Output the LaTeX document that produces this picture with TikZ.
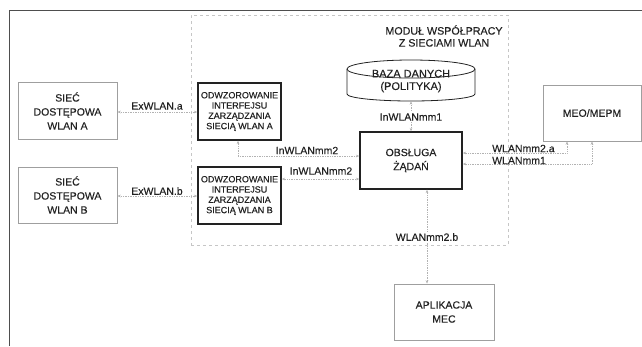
\documentclass[tikz,border=0pt]{standalone}
\usepackage{fontspec}
\setmainfont{Liberation Sans}[FakeBold=0.3]
\usetikzlibrary{arrows.meta}
\definecolor{ink}{HTML}{222222}
\begin{document}
\begin{tikzpicture}[x=1pt,y=-1pt,
  every node/.style={text=ink, font=\fontsize{10.5}{14}\selectfont, align=center},
  thinbox/.style={draw=gray!75, line width=0.7pt, inner sep=0pt},
  thickbox/.style={draw=ink, line width=1.3pt, inner sep=0pt},
  conn/.style={draw=gray!60, densely dotted, line width=0.7pt, {Stealth[length=3.5pt,width=2.6pt]}-{Stealth[length=3.5pt,width=2.6pt]}},
  lbl/.style={inner sep=1pt},
]
\useasboundingbox (0,0) rectangle (642,346);
% outer frame
\draw[ink!80, line width=1pt] (9,346) -- (9,10) -- (642,10);
% module box
\node[draw=gray!45, dashed, line width=0.6pt, minimum width=317pt, minimum height=230pt, inner sep=0pt] (mod) at (349.5,130) {};
\node[font=\fontsize{10.7}{12}\selectfont] (title) at (444,36) {MODUŁ WSPÓŁPRACY\\Z SIECIAMI WLAN};
% database cylinder
\node[minimum width=128pt, minimum height=42pt, inner sep=0pt] (db) at (411,80) {};
\draw[ink, line width=0.8pt] (347,69) -- (347,94) arc[start angle=180, end angle=360, x radius=64, y radius=-7] -- (475,69);
\draw[ink, line width=0.8pt] (411,69) ellipse[x radius=64, y radius=9];
\node[font=\fontsize{11}{12.5}\selectfont] (dbtext) at (411,81) {BAZA DANYCH\\(POLITYKA)};
% boxes
\node[thinbox, minimum width=99pt, minimum height=57pt] (sa) at (67.5,111) {SIEĆ\\DOSTĘPOWA\\WLAN A};
\node[thinbox, minimum width=99pt, minimum height=56pt] (sb) at (67.5,195) {SIEĆ\\DOSTĘPOWA\\WLAN B};
\node[thickbox, minimum width=83pt, minimum height=57pt, font=\fontsize{9}{10.3}\selectfont] (oa) at (239.5,111.5) {ODWZOROWANIE\\INTERFEJSU\\ZARZĄDZANIA\\SIECIĄ WLAN A};
\node[thickbox, minimum width=83pt, minimum height=57pt, font=\fontsize{9}{10.3}\selectfont] (ob) at (239.5,195.5) {ODWZOROWANIE\\INTERFEJSU\\ZARZĄDZANIA\\SIECIĄ WLAN B};
\node[thickbox, minimum width=102pt, minimum height=57pt] (obs) at (411,160.5) {OBSŁUGA\\ŻĄDAŃ};
\node[thinbox, minimum width=98pt, minimum height=56pt] (meo) at (592,113) {MEO/MEPM};
\node[thinbox, minimum width=100pt, minimum height=56pt] (apl) at (444,312) {APLIKACJA\\MEC};
% connectors
\draw[conn] ([yshift=-1pt]sa.east) -- ([yshift=-0.5pt]oa.west);
\node[lbl] (la) at (157,106) {ExWLAN.a};
\draw[conn] ([yshift=-1pt]sb.east) -- ([yshift=-0.5pt]ob.west);
\node[lbl] (lb) at (157,191) {ExWLAN.b};
\draw[conn] ([xshift=-1.5pt]oa.south) |- ([yshift=4.5pt]obs.west);
\node[lbl] (l2a) at (307,150.5) {InWLANmm2};
\draw[conn] ([yshift=16.5pt]ob.east) -- ([yshift=-18.5pt]obs.west);
\node[lbl] (l2b) at (321,171) {InWLANmm2};
\draw[conn] (db.south) -- (obs.north);
\node[lbl, fill=white] (l1) at (411,117) {InWLANmm1};
\draw[conn] ([yshift=7.5pt]obs.east) -| ([xshift=-25pt]meo.south);
\draw[conn] ([yshift=-3.5pt]obs.east) -| (meo.south);
\node[lbl, anchor=west] (lwa) at (491,148.5) {WLANmm2.a};
\node[lbl, anchor=west] (lw1) at (491,160.5) {WLANmm1};
\draw[conn] ([xshift=16pt]obs.south) -- ([xshift=16pt]obs.south |- apl.north);
\node[lbl, fill=white] (lwb) at (427,237) {WLANmm2.b};
\end{tikzpicture}
\end{document}
